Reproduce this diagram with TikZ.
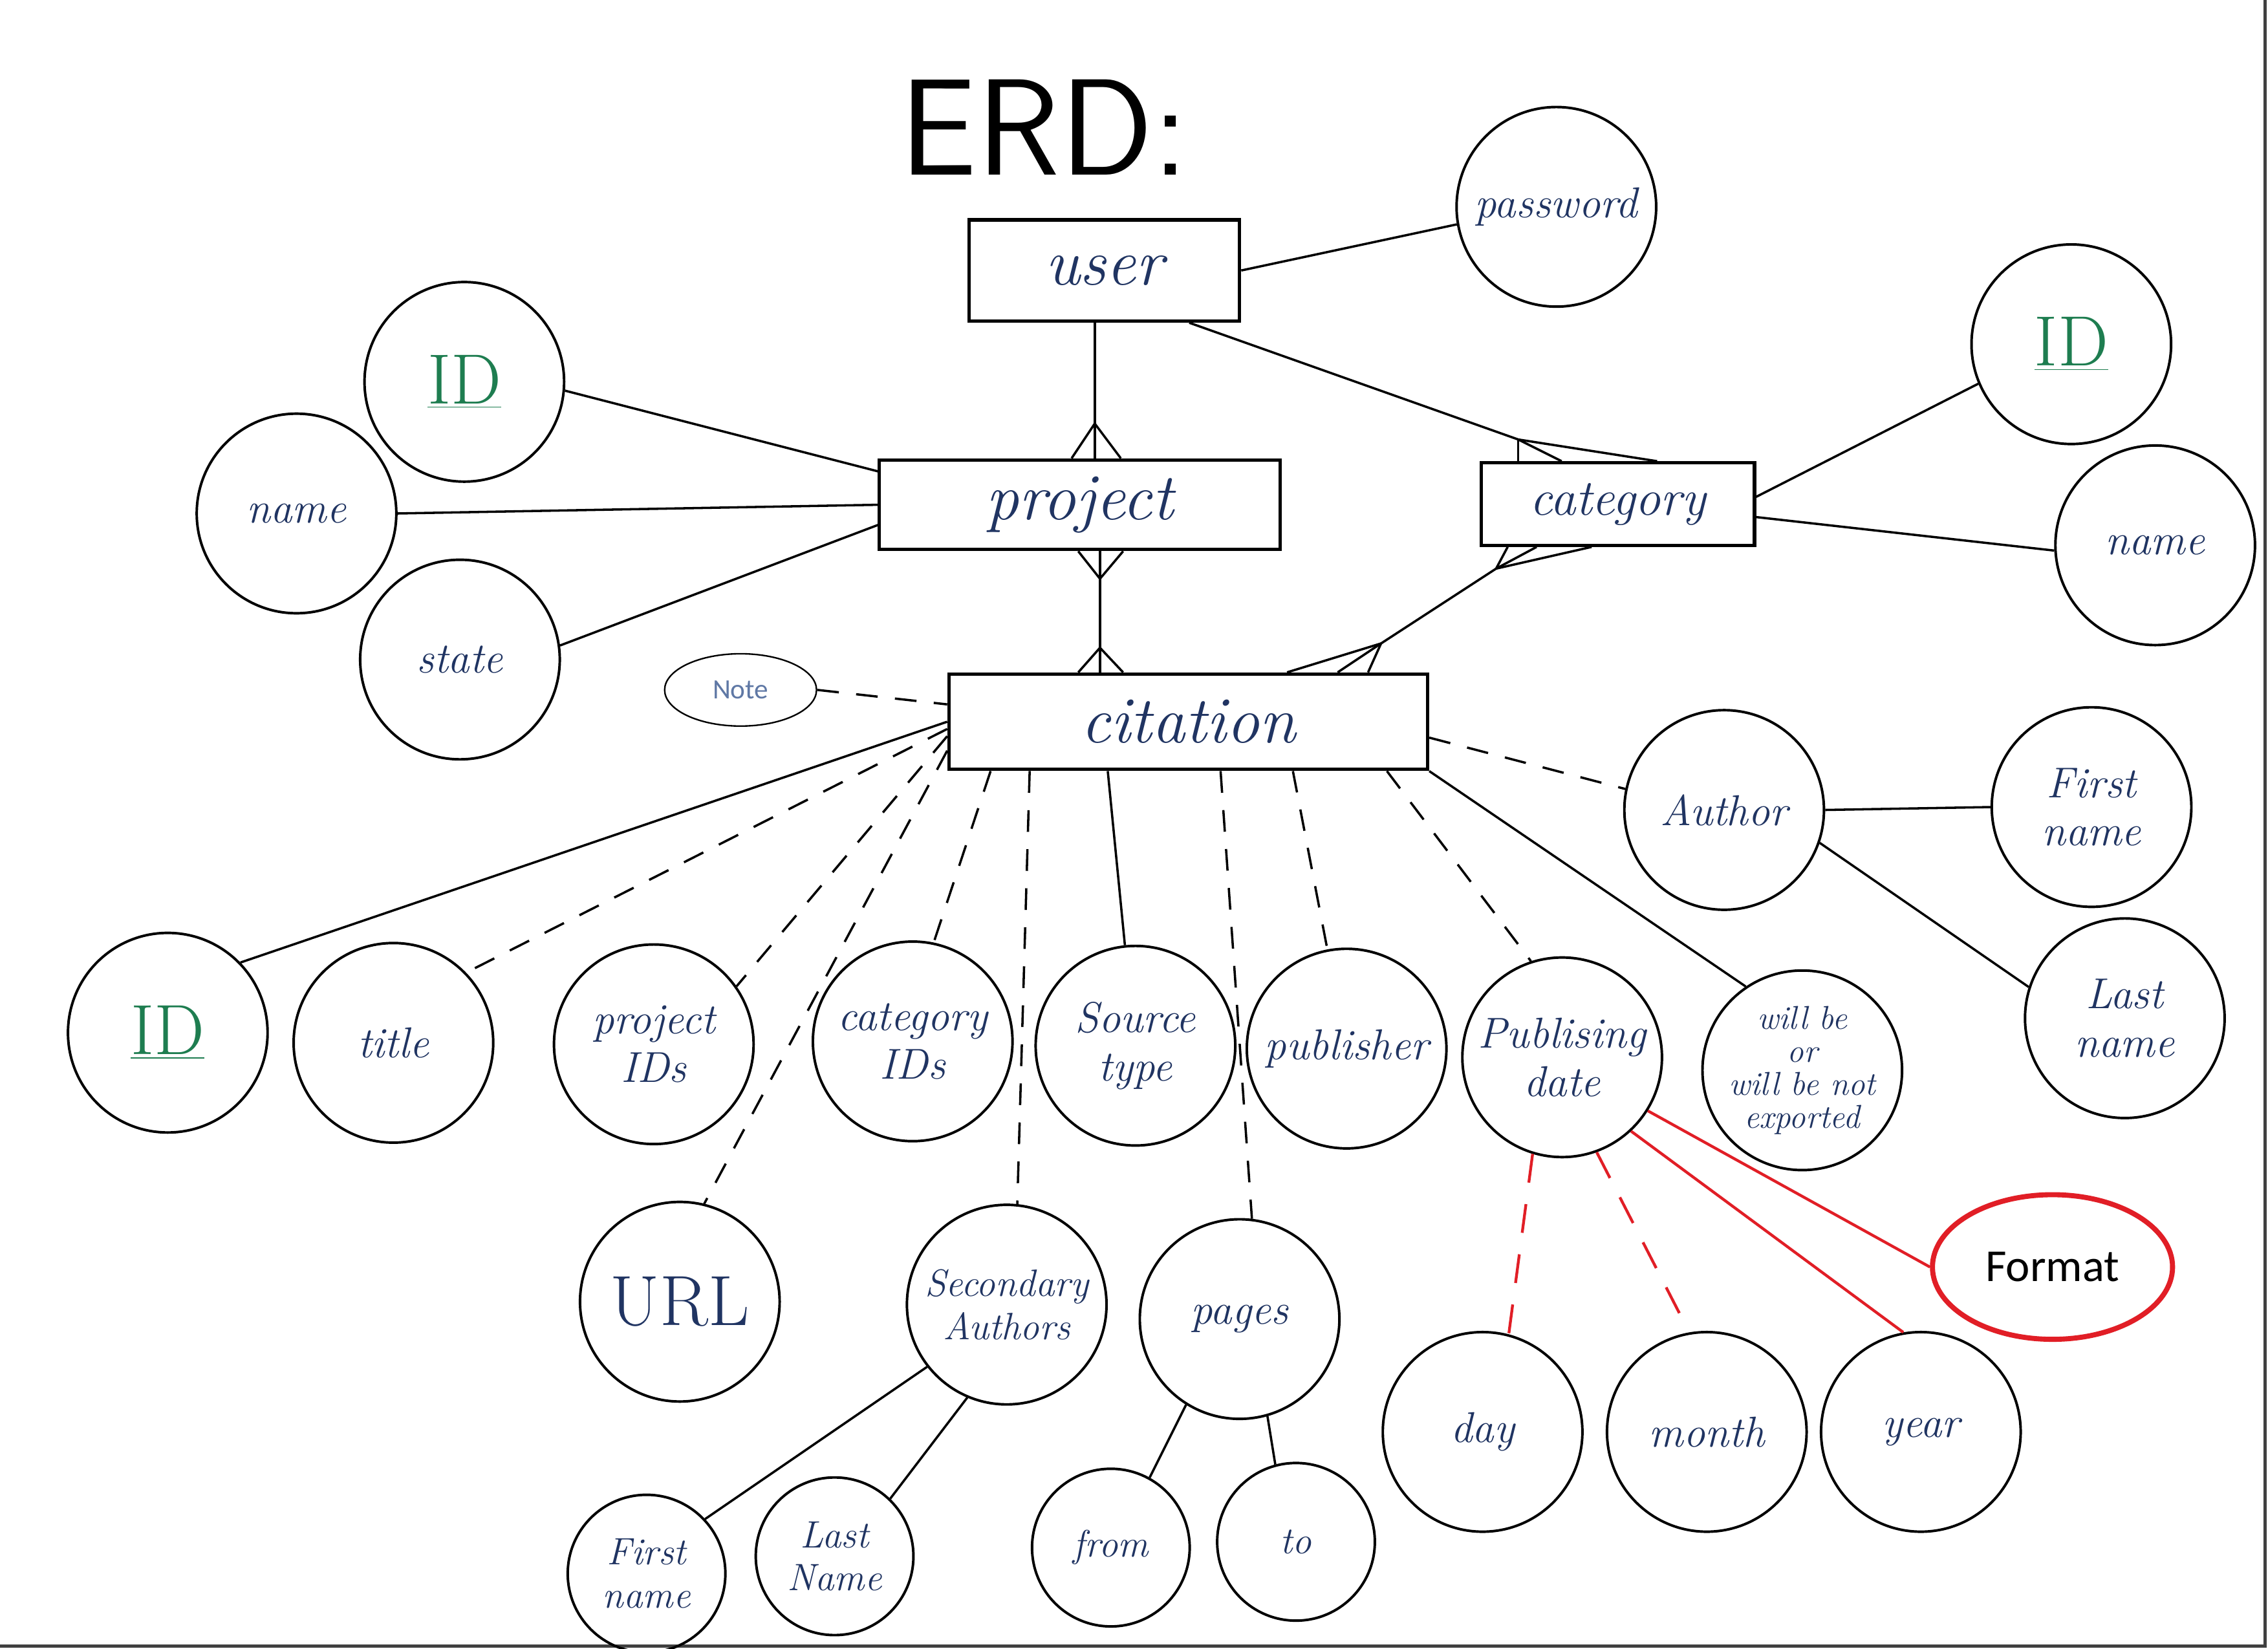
\documentclass[tikz,border=0pt]{standalone}
\usepackage{fontspec}
\newfontfamily\printfont{Carlito}
\usetikzlibrary{shapes.geometric,calc}
\definecolor{hand}{RGB}{32,52,98}
\definecolor{keygreen}{RGB}{30,125,80}
\definecolor{linkred}{RGB}{225,30,38}
\definecolor{notegray}{RGB}{95,120,165}
\tikzset{
  entity/.style={draw, line width=1.3pt, inner sep=0pt, text=hand, font=\fontsize{26}{28}\selectfont\itshape},
  attr/.style={circle, draw, line width=1pt, minimum size=27.6mm, inner sep=0pt, align=center, text=hand, font=\fontsize{17}{19}\selectfont\itshape},
  small attr/.style={attr, minimum size=21.8mm, font=\fontsize{15}{17}\selectfont\itshape},
  key/.style={attr, text=keygreen, font=\fontsize{28}{30}\selectfont},
  link/.style={line width=0.9pt},
  dashlink/.style={link, dash pattern=on 3mm off 2.4mm},
  redlink/.style={line width=1.1pt, draw=linkred},
  reddash/.style={redlink, dash pattern=on 4mm off 3mm}
}
\begin{document}
\begin{tikzpicture}[x=0.2mm, y=-0.2mm]
  \fill[white] (0,0) rectangle (1568,1140);
  \useasboundingbox (0,0) rectangle (1568,1140);
  \draw[black!75, line width=1.2pt] (1566,0) -- (1566,1138) -- (0,1138);

  % title
  \node[font=\fontsize{54}{58}\selectfont\sffamily] (erd) at (722,88) {ERD:};

  % entities
  \node[entity, minimum width=37.4mm, minimum height=14mm] (user) at (763.5,187) {user};
  \node[entity, minimum width=55.4mm, minimum height=12.4mm] (project) at (746.5,349) {project};
  \node[entity, minimum width=37.8mm, minimum height=11.4mm, font=\fontsize{20}{22}\selectfont\itshape] (category) at (1118.5,348.5) {category};
  \node[entity, minimum width=66.2mm, minimum height=13.2mm] (citation) at (821.5,499) {citation};

  % attributes of user, project, category
  \node[attr] (password) at (1076,143) {password};
  \node[key] (projectid) at (321,264) {\underline{ID}};
  \node[attr] (projectname) at (205,355) {name};
  \node[attr] (projectstate) at (318,456) {state};
  \node[key] (categoryid) at (1432,238) {\underline{ID}};
  \node[attr] (categoryname) at (1490,377) {name};

  % attributes of citation
  \node[ellipse, draw, line width=0.6pt, minimum width=21mm, minimum height=10mm, text=notegray, font=\printfont\fontsize{11}{12}\selectfont] (note) at (512,477) {Note};
  \node[attr] (author) at (1192,560) {Author};
  \node[attr] (authorfirst) at (1446,558) {First\\name};
  \node[attr] (authorlast) at (1469,704) {Last\\name};
  \node[key] (citationid) at (116,714) {\underline{ID}};
  \node[attr] (title) at (272,721) {title};
  \node[attr] (projectids) at (452,722) {project\\IDs};
  \node[attr] (categoryids) at (631,720) {category\\IDs};
  \node[attr] (sourcetype) at (785,723) {Source\\type};
  \node[attr] (publisher) at (931,725) {publisher};
  \node[attr] (pubdate) at (1080,731) {Publising\\date};
  \node[attr, font=\fontsize{13}{13}\selectfont\itshape] (exported) at (1246,740) {will be\\or\\will be not\\exported};
  \node[attr, font=\fontsize{28}{30}\selectfont] (url) at (470,900) {URL};
  \node[attr, font=\fontsize{15}{17}\selectfont\itshape] (secondary) at (696,902) {Secondary\\Authors};
  \node[attr] (pages) at (857,912) {pages};
  \node[attr] (day) at (1025,990) {day};
  \node[attr] (month) at (1180,990) {month};
  \node[attr] (year) at (1328,990) {year};
  \node[ellipse, draw=linkred, line width=2pt, minimum width=33.2mm, minimum height=20mm, font=\printfont\fontsize{18}{20}\selectfont] (format) at (1419,876) {Format};
  \node[small attr] (secondfirst) at (447,1088) {First\\name};
  \node[small attr] (secondlast) at (577,1076) {Last\\Name};
  \node[small attr] (pagesfrom) at (768,1070) {from};
  \node[small attr] (pagesto) at (896,1066) {to};

  % user -- project, many
  \coordinate (upa) at ($(user.south west)!0.465!(user.south east)$);
  \coordinate (upb) at (upa |- project.north);
  \coordinate (upc) at ($(upb)+(0,-24)$);
  \draw[link] (upa) -- (upc);
  \foreach \dx in {-16,0,18} \draw[link] (upc) -- ($(upb)+(\dx,0)$);

  % project -- citation, many to many
  \coordinate (pca) at ($(project.south west)!0.55!(project.south east)$);
  \coordinate (pcb) at (pca |- citation.north);
  \coordinate (pcc) at ($(pca)+(0,19)$);
  \coordinate (pcd) at ($(pcb)+(0,-17)$);
  \draw[link] (pca) -- (pcb);
  \foreach \dx in {-15,0,16} {
    \draw[link] (pcc) -- ($(pca)+(\dx,0)$);
    \draw[link] (pcd) -- ($(pcb)+(\dx,0)$);
  }

  % user -- category, many
  \coordinate (uca) at ($(user.south west)!0.81!(user.south east)$);
  \coordinate (ucc) at ($(category.north west)!0.14!(category.north east)+(0,-15)$);
  \coordinate (ucb) at (ucc |- category.north);
  \draw[link] (uca) -- (ucc);
  \foreach \dx in {0,30,96} \draw[link] (ucc) -- ($(ucb)+(\dx,0)$);

  % category -- citation, many to many
  \coordinate (cca) at ($(category.south west)!0.06!(category.south east)+(0,15)$);
  \coordinate (ccb) at (cca |- category.south);
  \coordinate (ccc) at ($(citation.north west)!0.9!(citation.north east)+(0,-20)$);
  \coordinate (ccd) at (ccc |- citation.north);
  \draw[link] (cca) -- (ccc);
  \foreach \dx in {8,28,66} \draw[link] (cca) -- ($(ccb)+(\dx,0)$);
  \foreach \dx in {-65,-30,-9} \draw[link] (ccc) -- ($(ccd)+(\dx,0)$);

  % attribute links
  \draw[link] (user.east) -- (password.190);
  \draw[link] (projectid.-5) -- ($(project.north west)+(0,9)$);
  \draw[link] (projectname.east) -- (project.west);
  \draw[link] (projectstate.8) -- ($(project.west)+(0,14)$);
  \draw[link] (categoryid.203) -- ($(category.east)+(0,-5)$);
  \draw[link] (categoryname.183) -- ($(category.east)+(0,9)$);
  \draw[dashlink] (note.east) -- ($(citation.west)+(0,-12)$);
  \draw[dashlink] ($(citation.east)+(0,11)$) -- (author.168);
  \draw[link] (author.east) -- (authorfirst.west);
  \draw[link] (author.-19) -- (authorlast.162);

  \draw[link] (citation.west) -- (citationid.44);
  \draw[dashlink] ($(citation.west)+(0,5)$) -- (title.44);
  \draw[dashlink] ($(citation.west)+(0,10)$) -- (projectids.35);
  \draw[dashlink] ($(citation.west)+(0,20)$) -- (url.76);
  \draw[dashlink] ($(citation.south west)+(30,0)$) -- (categoryids.78);
  \draw[dashlink] ($(citation.south west)+(57,0)$) -- (secondary.84);
  \draw[link] ($(citation.south west)+(111,0)$) -- (sourcetype.96);
  \draw[dashlink] ($(citation.south west)+(189,0)$) -- (pages.83);
  \draw[dashlink] ($(citation.south west)+(239,0)$) -- (publisher.101);
  \draw[dashlink] ($(citation.south west)+(304,0)$) -- (pubdate.108);
  \draw[link] (citation.south east) -- (exported.124);

  \draw[reddash] (pubdate.-107) -- (day.75);
  \draw[reddash] (pubdate.-70) -- (month.100);
  \draw[redlink] (pubdate.-47) -- (year.100);
  \draw[redlink] (pubdate.-32) -- (format.west);

  \draw[link] (secondary.-142) -- (secondfirst.43);
  \draw[link] (secondary.-113) -- (secondlast.46);
  \draw[link] (pages.-122) -- (pagesfrom.61);
  \draw[link] (pages.-74) -- (pagesto.105);
\end{tikzpicture}
\end{document}
